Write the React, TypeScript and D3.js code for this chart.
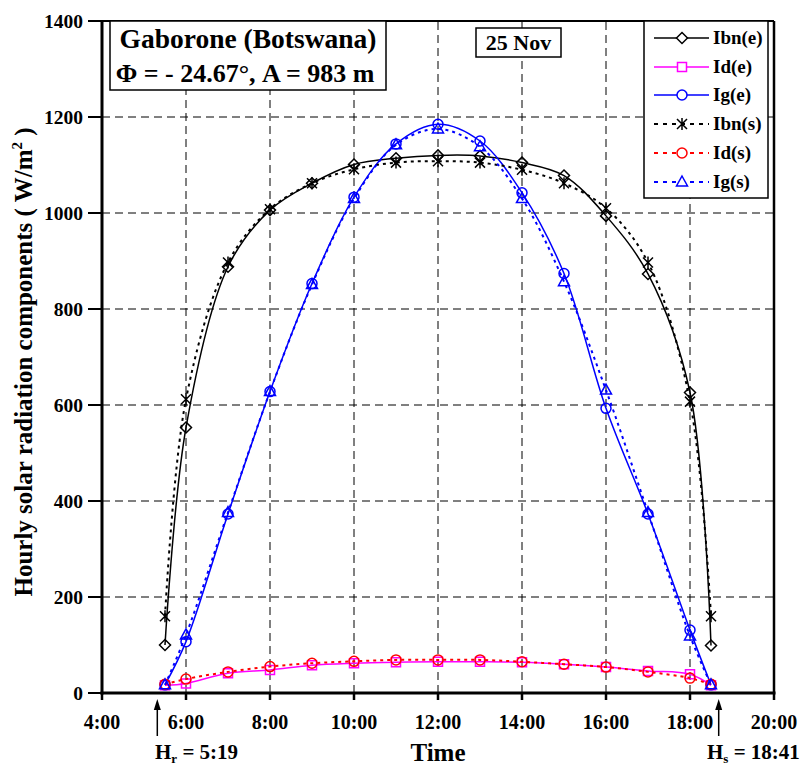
import React from "react";
import * as d3 from "d3";

const hours = [5.5, 6, 7, 8, 9, 10, 11, 12, 13, 14, 15, 16, 17, 18, 18.5];
const ibnE = [100, 553, 888, 1006, 1062, 1101, 1114, 1120, 1119, 1105, 1078, 994, 873, 626, 99];
const idE = [16, 20, 41, 48, 58, 62, 64, 65, 65, 64, 60, 54, 46, 39, 16];
const igE = [17, 107, 373, 628, 853, 1033, 1144, 1185, 1150, 1042, 874, 593, 373, 131, 17];
const ibnS = [160, 612, 897, 1008, 1062, 1091, 1105, 1108, 1105, 1090, 1062, 1010, 897, 607, 160];
const idS = [18, 29, 44, 55, 62, 66, 69, 69, 69, 65, 60, 54, 44, 31, 18];
const igS = [17, 121, 376, 628, 851, 1030, 1142, 1175, 1138, 1030, 857, 631, 376, 119, 17];

const xTicks = [4, 6, 8, 10, 12, 14, 16, 18, 20];
const xTickLabels = ["4:00", "6:00", "8:00", "10:00", "12:00", "14:00", "16:00", "18:00", "20:00"];
const yTicks = [0, 200, 400, 600, 800, 1000, 1200, 1400];

const sunrise = 5 + 19 / 60;
const sunset = 18 + 41 / 60;

type Marker = "diamond" | "square" | "circle" | "star" | "triangle";
const seriesList: { name: string; values: number[]; color: string; dashed: boolean; marker: Marker }[] = [
  { name: "Ibn(e)", values: ibnE, color: "#000000", dashed: false, marker: "diamond" },
  { name: "Id(e)", values: idE, color: "#FF00FF", dashed: false, marker: "square" },
  { name: "Ig(e)", values: igE, color: "#0000FF", dashed: false, marker: "circle" },
  { name: "Ibn(s)", values: ibnS, color: "#000000", dashed: true, marker: "star" },
  { name: "Id(s)", values: idS, color: "#FF0000", dashed: true, marker: "circle" },
  { name: "Ig(s)", values: igS, color: "#0000FF", dashed: true, marker: "triangle" },
];

const FONT = "'Liberation Serif', 'Times New Roman', serif";

function markerPath(m: Marker): string {
  switch (m) {
    case "diamond":
      return "M0,-5.5L5.5,0L0,5.5L-5.5,0Z";
    case "square":
      return "M-4.5,-4.5H4.5V4.5H-4.5Z";
    case "circle":
      return "M5,0A5,5 0 1,1 -5,0A5,5 0 1,1 5,0Z";
    case "star":
      return "M-5,-5L5,5M-5,5L5,-5M0,-6V6";
    case "triangle":
      return "M0,-6L5.5,4L-5.5,4Z";
  }
}

export default function App() {
  const x = d3.scaleLinear().domain([4, 20]).range([102, 774]);
  const y = d3.scaleLinear().domain([0, 1400]).range([693, 21]);
  const line = d3
    .line<number>()
    .x((_, i) => x(hours[i]))
    .y((v) => y(v))
    .curve(d3.curveCatmullRom.alpha(0.5));

  const legendY = [38, 67, 95, 124, 153, 182];

  return (
    <svg
      width={802}
      height={765}
      style={{ position: "absolute", left: 0, top: 0, background: "#fff" }}
      fontFamily={FONT}
    >
      <rect x={0} y={0} width={802} height={765} fill="#fff" />
      {/* grid */}
      {xTicks.slice(1, -1).map((t) => (
        <line key={"gx" + t} x1={x(t)} x2={x(t)} y1={y(0)} y2={y(1400)} stroke="#000" strokeWidth={1} strokeDasharray="8,5" />
      ))}
      {yTicks.slice(1, -1).map((t) => (
        <line key={"gy" + t} x1={x(4)} x2={x(20)} y1={y(t)} y2={y(t)} stroke="#000" strokeWidth={1} strokeDasharray="8,5" />
      ))}

      {/* series */}
      {seriesList.map((s) => (
        <g key={s.name}>
          <path
            d={line(s.values) || ""}
            fill="none"
            stroke={s.color}
            strokeWidth={s.dashed ? 2 : 1.5}
            strokeDasharray={s.dashed ? "3,4" : undefined}
          />
          {s.values.map((v, i) => (
            <path
              key={i}
              d={markerPath(s.marker)}
              transform={`translate(${x(hours[i])},${y(v)})`}
              fill="none"
              stroke={s.color}
              strokeWidth={1.5}
            />
          ))}
        </g>
      ))}

      {/* frame */}
      <line x1={x(4)} x2={x(20)} y1={y(1400)} y2={y(1400)} stroke="#000" strokeWidth={2} />
      <line x1={x(20)} x2={x(20)} y1={y(0)} y2={y(1400)} stroke="#000" strokeWidth={2.5} />
      <line x1={x(4)} x2={x(4)} y1={y(0) + 1.5} y2={y(1400)} stroke="#000" strokeWidth={3} />
      <line x1={x(4) - 1.5} x2={x(20) + 1.5} y1={y(0)} y2={y(0)} stroke="#000" strokeWidth={3} />

      {/* y ticks */}
      {yTicks.map((t) => (
        <g key={"yt" + t}>
          <line x1={x(4) - 14} x2={x(4)} y1={y(t)} y2={y(t)} stroke="#000" strokeWidth={2} />
          <text x={x(4) - 19} y={y(t) + 6.5} textAnchor="end" fontSize={19.5} fontWeight="bold">
            {t}
          </text>
        </g>
      ))}
      {/* x ticks */}
      {xTicks.map((t, i) => (
        <g key={"xt" + t}>
          <line x1={x(t)} x2={x(t)} y1={y(0)} y2={y(0) + 7} stroke="#000" strokeWidth={2.5} />
          <text x={x(t)} y={729} textAnchor="middle" fontSize={20} fontWeight="bold">
            {xTickLabels[i]}
          </text>
        </g>
      ))}

      {/* axis titles */}
      <text x={438} y={761} textAnchor="middle" fontSize={25} fontWeight="bold">
        Time
      </text>
      <text
        transform={`translate(32,362) rotate(-90)`}
        textAnchor="middle"
        fontSize={25}
        fontWeight="bold"
      >
        Hourly solar radiation components ( W/m
        <tspan dy={-10} fontSize={15}>2</tspan>
        <tspan dy={10}> )</tspan>
      </text>

      {/* sunrise / sunset arrows */}
      {[sunrise, sunset].map((h) => (
        <g key={"arr" + h}>
          <line x1={x(h)} x2={x(h)} y1={736} y2={708} stroke="#000" strokeWidth={1.5} />
          <path d={`M${x(h)},699L${x(h) - 3.5},710L${x(h) + 3.5},710Z`} fill="#000" />
        </g>
      ))}
      <text x={155} y={759} fontSize={21} fontWeight="bold">
        H<tspan dy={4} fontSize={13}>r</tspan>
        <tspan dy={-4}> = 5:19</tspan>
      </text>
      <text x={707} y={759} fontSize={21} fontWeight="bold">
        H<tspan dy={4} fontSize={13}>s</tspan>
        <tspan dy={-4}> = 18:41</tspan>
      </text>

      {/* location box */}
      <rect x={110} y={21} width={276} height={69} fill="#fff" stroke="#000" strokeWidth={1.5} />
      <text x={248} y={48} textAnchor="middle" fontSize={27.5} fontWeight="bold">
        Gaborone (Botswana)
      </text>
      <text x={245} y={82} textAnchor="middle" fontSize={26} fontWeight="bold">
        Φ = - 24.67°, A = 983 m
      </text>

      {/* date box */}
      <rect x={476} y={28} width={85} height={29} fill="#fff" stroke="#000" strokeWidth={1.5} />
      <text x={518.5} y={50} textAnchor="middle" fontSize={22} fontWeight="bold">
        25 Nov
      </text>

      {/* legend */}
      <rect x={644} y={21} width={124} height={177} fill="#fff" stroke="#000" strokeWidth={1.5} />
      {seriesList.map((s, i) => (
        <g key={"lg" + s.name}>
          <line
            x1={654}
            x2={709}
            y1={legendY[i]}
            y2={legendY[i]}
            stroke={s.color}
            strokeWidth={s.dashed ? 2 : 1.5}
            strokeDasharray={s.dashed ? "4,5" : undefined}
          />
          <path
            d={markerPath(s.marker)}
            transform={`translate(682,${legendY[i]})`}
            fill="#fff"
            stroke={s.color}
            strokeWidth={1.5}
          />
          <text x={713} y={legendY[i] + 6} fontSize={19} fontWeight="bold">
            {s.name}
          </text>
        </g>
      ))}
    </svg>
  );
}
